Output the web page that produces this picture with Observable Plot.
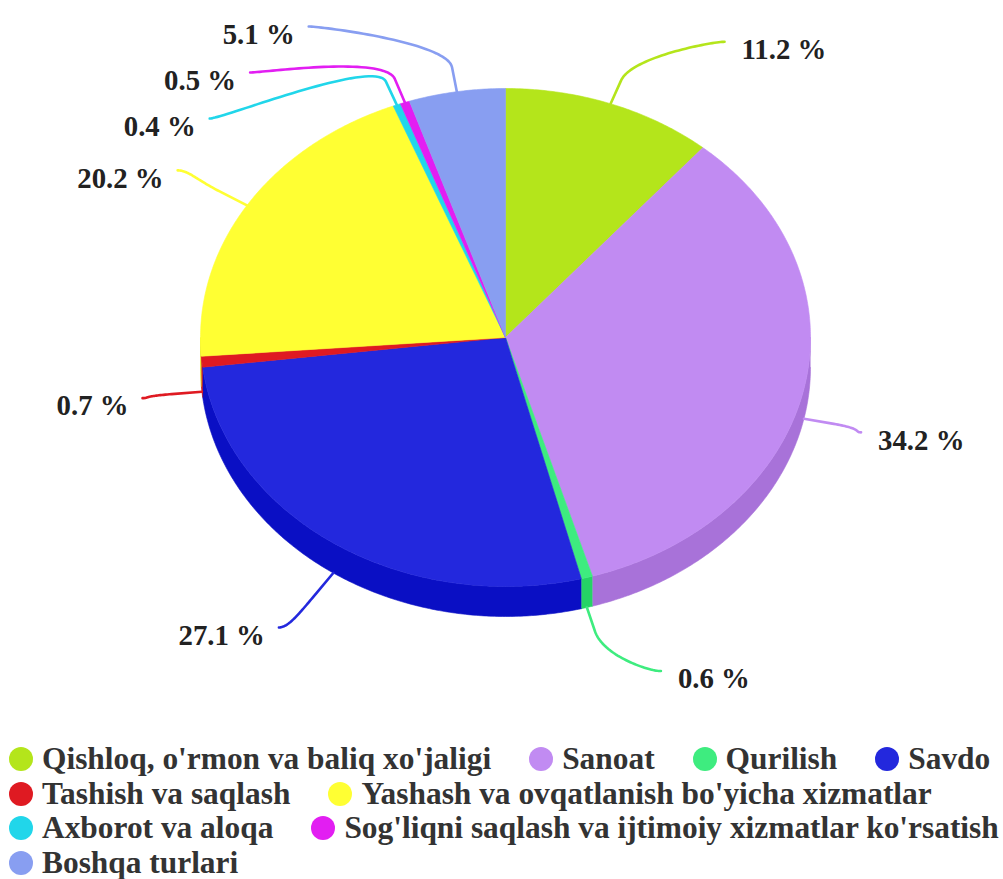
<!DOCTYPE html>
<html><head><meta charset="utf-8">
<script src="https://cdn.jsdelivr.net/npm/d3@7"></script>
<script src="https://cdn.jsdelivr.net/npm/@observablehq/plot@0.6"></script>
<style>
html,body{margin:0;padding:0;background:#fff;overflow:hidden;}
#chart svg{display:block;}
#legend{font-family:"Liberation Serif","Times New Roman",serif;font-weight:bold;font-size:31.4px;color:#333;line-height:34px;}
.row{display:flex;white-space:nowrap;height:34.5px;align-items:center;}
.item{display:flex;align-items:center;margin-right:38px;}
.item:first-child{margin-left:9px;}
.dot{width:24px;height:24px;border-radius:50%;margin-right:9px;flex:none;}
</style></head>
<body><div id="chart"></div><div id="legend"></div>
<script>
// ---- data ----
const categories = [
  "Qishloq, o'rmon va baliq xo'jaligi",
  "Sanoat",
  "Qurilish",
  "Savdo",
  "Tashish va saqlash",
  "Yashash va ovqatlanish bo'yicha xizmatlar",
  "Axborot va aloqa",
  "Sog'liqni saqlash va ijtimoiy xizmatlar ko'rsatish",
  "Boshqa turlari"
];
const shares = [11.2, 34.2, 0.6, 27.1, 0.7, 20.2, 0.4, 0.5, 5.1];
const sliceColors = ["#b4e51b", "#c18bf2", "#3eec7f", "#2328dd", "#df1a22", "#ffff33", "#21d6ea", "#e21ef2", "#889ef1"];
const legendRows = [[0, 1, 2, 3], [4, 5], [6, 7], [8]];

// ---- layout ----
const W = 1003, H = 742;
const cx = 505, cy = 337, rx = 305, ry = 249, depth = 30;
const labelRy = 315, labelR = 368, minGap = 46;

function darker(hex) {
  const c = d3.rgb(hex);
  return d3.rgb(Math.max(0, c.r - 25.5), Math.max(0, c.g - 25.5), Math.max(0, c.b - 25.5)).formatHex();
}
function pt(a, k = 1, dz = 0) {
  return [cx + rx * k * Math.sin(a), cy - ry * k * Math.cos(a) + dz];
}
function arcPts(a0, a1, k = 1, dz = 0) {
  const n = Math.max(2, Math.ceil((a1 - a0) / (Math.PI / 360)));
  return d3.range(n + 1).map(i => pt(a0 + (a1 - a0) * i / n, k, dz));
}

const arcs = d3.pie().sort(null).value(d => d)(shares);

const sideMarks = [], topMarks = [], leaderMarks = [];
const labels = [];
arcs.forEach((a, i) => {
  const col = sliceColors[i];
  // side wall (front half only)
  const s = Math.max(a.startAngle, Math.PI / 2), e = Math.min(a.endAngle, 3 * Math.PI / 2);
  if (s < e) {
    const poly = [...arcPts(s, e), ...arcPts(s, e, 1, depth).reverse()];
    sideMarks.push(Plot.line(poly, {x: d => d[0], y: d => d[1], fill: darker(col), stroke: darker(col), strokeWidth: 0.6}));
  }
  // top face
  const top = [[cx, cy], ...arcPts(a.startAngle, a.endAngle), [cx, cy]];
  topMarks.push(Plot.line(top, {x: d => d[0], y: d => d[1], fill: col, stroke: col, strokeWidth: 0.6}));
  const mid = (a.startAngle + a.endAngle) / 2;
  const front = Math.cos(mid) < 0 ? depth : 0;
  labels.push({
    i, mid, front,
    right: Math.sin(mid) >= 0,
    ly: cy - labelRy * Math.cos(mid) + front
  });
});

// avoid label overlaps per side
for (const side of [true, false]) {
  const grp = labels.filter(l => l.right === side).sort((p, q) => p.ly - q.ly);
  for (let k = 1; k < grp.length; k++) {
    if (grp[k].ly < grp[k - 1].ly + minGap) grp[k].ly = grp[k - 1].ly + minGap;
  }
}

labels.forEach(l => {
  const dy = l.ly - cy;
  const dx = Math.sqrt(Math.max(0, labelR * labelR - dy * dy));
  l.lx = l.right ? cx + dx : cx - dx;
  const S = pt(l.mid, 1, l.front);
  const B = pt(l.mid, 1.1, l.front);
  const off = Math.min(13, Math.abs(l.lx - B[0]) / 4);
  const P0 = [l.lx, l.ly];
  const P1 = [l.lx + (l.right ? -off : off), l.ly];
  const P2 = [2 * B[0] - S[0], 2 * B[1] - S[1]];
  const P3 = B;
  const path = d3.range(41).map(j => {
    const t = j / 40, u = 1 - t;
    return [
      u*u*u*P0[0] + 3*u*u*t*P1[0] + 3*u*t*t*P2[0] + t*t*t*P3[0],
      u*u*u*P0[1] + 3*u*u*t*P1[1] + 3*u*t*t*P2[1] + t*t*t*P3[1]
    ];
  });
  path.push(S);
  leaderMarks.push(Plot.line(path, {x: d => d[0], y: d => d[1], stroke: sliceColors[l.i], strokeWidth: 2.6, curve: "linear"}));
  l.tx = l.right ? l.lx + 17 : l.lx - 14;
  l.ty = l.ly + 8;
  l.text = `${shares[l.i]} %`;
});

const textOpts = {x: "tx", y: "ty", text: "text", fontSize: 28.8, fontWeight: "bold",
  fontFamily: "'Liberation Serif','Times New Roman',serif", fill: "#222", stroke: "white", strokeWidth: 2};

const chart = Plot.plot({
  width: W, height: H, margin: 0,
  x: {domain: [0, W], range: [0, W], axis: null},
  y: {domain: [0, H], range: [0, H], axis: null},
  marks: [
    ...sideMarks,
    ...topMarks,
    ...leaderMarks,
    Plot.text(labels.filter(l => l.right), {...textOpts, textAnchor: "start"}),
    Plot.text(labels.filter(l => !l.right), {...textOpts, textAnchor: "end"})
  ]
});
document.getElementById("chart").appendChild(chart);

// legend
const legend = document.getElementById("legend");
legendRows.forEach(row => {
  const r = document.createElement("div");
  r.className = "row";
  row.forEach(i => {
    const it = document.createElement("div");
    it.className = "item";
    const dot = document.createElement("span");
    dot.className = "dot";
    dot.style.background = sliceColors[i];
    const t = document.createElement("span");
    t.textContent = categories[i];
    it.appendChild(dot); it.appendChild(t);
    r.appendChild(it);
  });
  legend.appendChild(r);
});
</script>
</body></html>
